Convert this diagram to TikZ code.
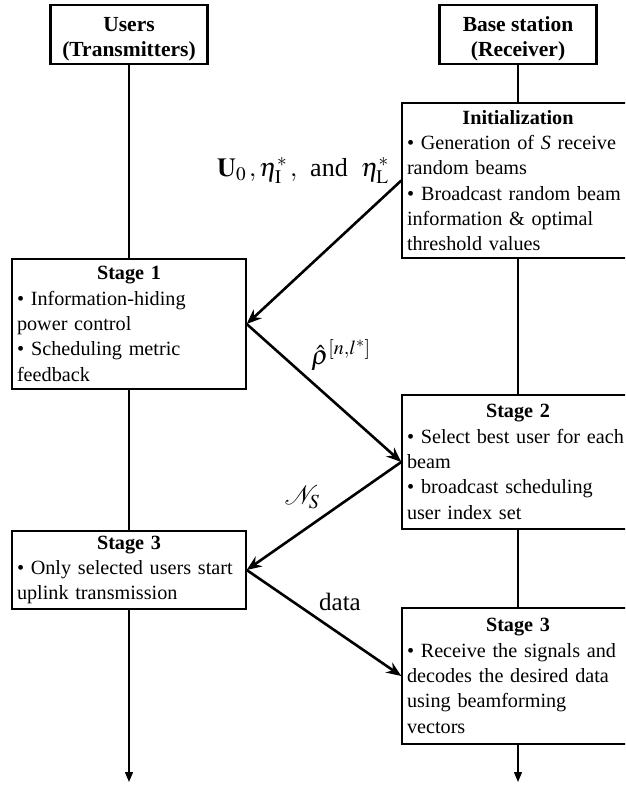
\documentclass[tikz,border=0pt]{standalone}
\usepackage{mathptmx}
\usepackage{fontspec}
\setmainfont{Liberation Serif}
\usetikzlibrary{arrows.meta}
\newcommand{\bsp}{\hspace{0.35em}}
\begin{document}
\begin{tikzpicture}[x=1pt,y=-1pt,
  every node/.style={font=\fontsize{20.2}{25.3}\selectfont},
  topbox/.style={draw, line width=2.3pt, minimum width=157pt, minimum height=59pt, align=center, inner sep=0pt, font=\fontsize{21.5}{25}\selectfont\bfseries},
  stagebox/.style={draw, line width=1.4pt, inner xsep=5pt, inner ysep=0pt, align=left, text width=222pt, execute at begin node=\setlength{\parindent}{0pt}},
  lstagebox/.style={stagebox, text width=224pt},
  vline/.style={line width=1.4pt},
  flow/.style={line width=2.6pt, -{Stealth[length=15pt,width=12pt,inset=5pt]}},
  endarrow/.style={line width=1.4pt, -{Triangle[length=10pt,width=8pt]}},
  lab/.style={font=\fontsize{24}{28}\selectfont, inner sep=0pt}
]
\useasboundingbox (0,0) rectangle (625,787);
\clip (0,0) rectangle (625,787);

\node[topbox] (users) at (129,34.5) {\rule{0pt}{24pt}Users\\(Transmitters)};
\node[topbox] (bs) at (518,34.5) {\rule{0pt}{24pt}Base station\\(Receiver)};

\node[stagebox, minimum height=155pt] (init) at (518,180.5)
  {\hfill\textbf{Initialization}\hfill\null\\
   • Generation of \textit{S} receive\\
   random beams\\
   •\bsp Broadcast random beam\\
   information \& optimal\\
   threshold values};

\node[lstagebox, minimum height=130pt] (stage1) at (129,324)
  {\hfill\textbf{Stage 1}\hfill\null\\
   • Information-hiding\\
   power control\\
   •\bsp Scheduling metric\\
   feedback};

\node[stagebox, minimum height=134pt] (stage2) at (518,462)
  {\hfill\textbf{Stage 2}\hfill\null\\
   • Select best user for each\\
   beam\\
   •\bsp broadcast scheduling\\
   user index set};

\node[lstagebox, minimum height=78pt] (stage3L) at (129,570)
  {\hfill\textbf{Stage 3}\hfill\null\\
   • Only selected users start\\
   uplink transmission};

\node[stagebox, minimum height=136pt] (stage3R) at (518,676)
  {\hfill\textbf{Stage 3}\hfill\null\\
   • Receive the signals and\\
   decodes the desired data\\
   using beamforming\\
   vectors};

\coordinate (endL) at (129,782);
\coordinate (endR) at (518,782);

\draw[vline] (users) -- (stage1);
\draw[vline] (stage1) -- (stage3L);
\draw[endarrow] (stage3L) -- (endL);
\draw[vline] (bs) -- (init);
\draw[vline] (init) -- (stage2);
\draw[vline] (stage2) -- (stage3R);
\draw[endarrow] (stage3R) -- (endR);

\draw[flow] (init.west) -- (stage1.east);
\draw[flow] (stage1.east) -- (stage2.west);
\draw[flow] (stage2.west) -- (stage3L.east);
\draw[flow] (stage3L.east) -- (stage3R.west);

\node[lab, font=\fontsize{26}{30}\selectfont] (l1) at (303,171) {$\mathbf{U}_0\,,\eta^{*}_{\mathrm{I}}\,,$\ \ and\ \ $\eta^{*}_{\mathrm{L}}$};
\node[lab, font=\fontsize{27}{30}\selectfont] (l2) at (341,355) {$\hat{\rho}^{[n,l^{*}]}$};
\node[lab, font=\fontsize{27}{30}\selectfont] (l3) at (302,497) {$\mathcal{N}_S$};
\node[lab, font=\fontsize{25}{30}\selectfont] (l4) at (340,602) {data};
\end{tikzpicture}
\end{document}
